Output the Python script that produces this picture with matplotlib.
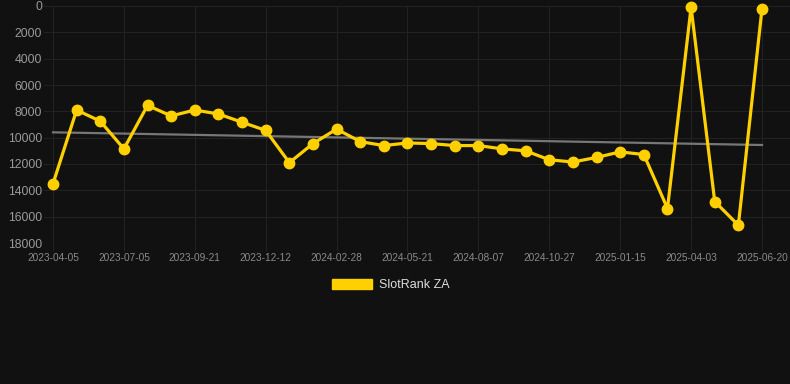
import numpy as np
import matplotlib
matplotlib.use("Agg")
import matplotlib.pyplot as plt
from matplotlib.patches import Patch

plt.rcParams['font.family'] = ['Liberation Sans', 'DejaVu Sans']

# --- data ---
tick_labels = ["2023-04-05", "2023-07-05", "2023-09-21", "2023-12-12", "2024-02-28",
               "2024-05-21", "2024-08-07", "2024-10-27", "2025-01-15", "2025-04-03",
               "2025-06-20"]
tick_step = 3
rank = [13500, 7900, 8750, 10850, 7550, 8350, 7900, 8200, 8830, 9450,
        11900, 10450, 9350, 10300, 10600, 10400, 10450, 10600, 10600, 10850,
        11000, 11680, 11850, 11500, 11080, 11280, 15380, 100, 14850, 16650, 200]
series_name = "SlotRank ZA"

bg = "#111111"
gold = "#FFD000"
grid_c = "#222222"

fig = plt.figure(figsize=(7.9, 3.84), dpi=100, facecolor=bg)
ax = fig.add_axes([44/790, 141/384, 746/790, 237/384], facecolor=bg)

x = np.arange(len(rank))
y = np.array(rank, dtype=float)

# trend line (linear regression)
coef = np.polyfit(x, y, 1)
ax.plot(x, np.polyval(coef, x), color="#777777", lw=1.6, zorder=2)

ax.plot(x, y, color=gold, lw=2.3, marker="o", ms=7.5, mfc=gold, mec=gold,
        zorder=3, clip_on=False)

ax.set_ylim(18000, 0)
ax.set_xlim(-0.381, 31.185)
ax.set_yticks(np.arange(0, 18001, 2000))
ax.set_xticks(x[::tick_step])
ax.set_xticklabels(tick_labels)

ax.grid(True, color=grid_c, lw=0.8)
ax.set_axisbelow(True)
for s in ax.spines.values():
    s.set_visible(False)
ax.tick_params(axis='y', length=0, pad=1.5, labelsize=8.8, labelcolor="#9a9a9a")
ax.tick_params(axis='x', length=6, color=grid_c, pad=1, labelsize=7.3, labelcolor="#8a8a8a")

leg = fig.legend(handles=[Patch(facecolor=gold, edgecolor=gold, label=series_name)],
                 loc="center", bbox_to_anchor=(391/790, 1 - 285/384), frameon=False,
                 fontsize=9, handlelength=3.2, handleheight=0.9, handletextpad=0.6)
for t in leg.get_texts():
    t.set_color("#dddddd")

fig.savefig("out.png", dpi=100, facecolor=bg)
